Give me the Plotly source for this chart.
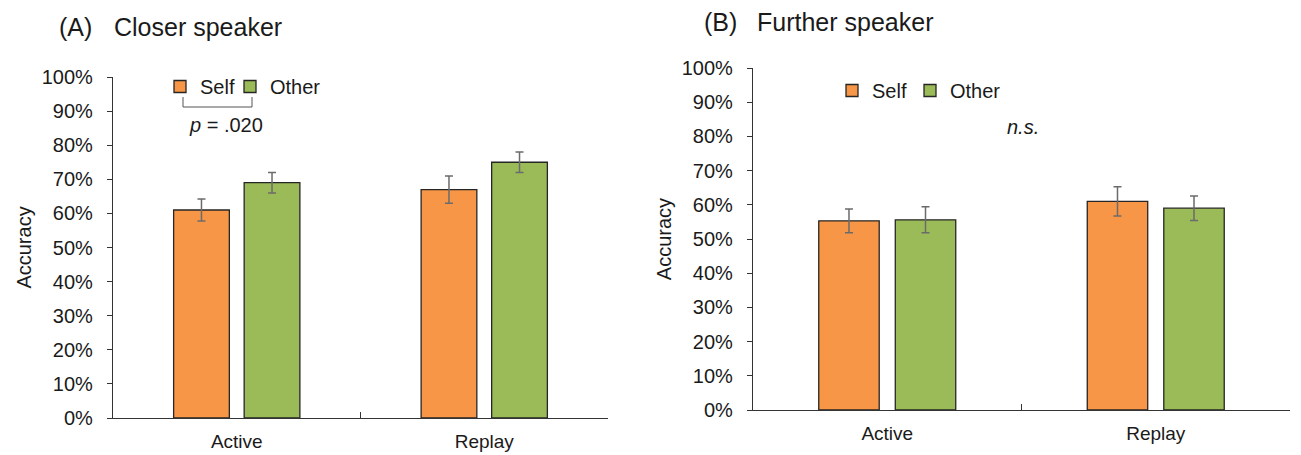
import plotly.graph_objects as go

categories = ["Active", "Replay"]
series_names = ["Self", "Other"]

closer_self = [61.0, 67.0]
closer_self_err = [3.2, 4.0]
closer_other = [69.0, 75.0]
closer_other_err = [3.0, 3.0]

further_self = [55.3, 61.0]
further_self_err = [3.5, 4.3]
further_other = [55.6, 59.0]
further_other_err = [3.8, 3.6]

y_ticks = list(range(0, 101, 10))
y_tick_labels = [f"{v}%" for v in y_ticks]

ORANGE = "#F79646"
GREEN = "#9BBB59"
OUTLINE = "#262626"
ERR = "#6b6b6b"
TXT = "#1a1a1a"
FONT = "Liberation Sans, Arial, sans-serif"

fig = go.Figure()

def add_bar(name, vals, errs, color, xa, ya, legend):
    fig.add_trace(go.Bar(
        x=categories, y=vals, name=name,
        marker=dict(color=color, line=dict(color=OUTLINE, width=1.3)),
        error_y=dict(type="data", array=errs, visible=True, color=ERR, thickness=1.5, width=4),
        xaxis=xa, yaxis=ya, legend=legend, showlegend=True,
    ))

add_bar(series_names[0], closer_self, closer_self_err, ORANGE, "x", "y", "legend")
add_bar(series_names[1], closer_other, closer_other_err, GREEN, "x", "y", "legend2")
add_bar(series_names[0], further_self, further_self_err, ORANGE, "x2", "y2", "legend3")
add_bar(series_names[1], further_other, further_other_err, GREEN, "x2", "y2", "legend4")

W, H = 1301, 455
def px_x(p):
    return p / W
def px_y(p):
    return 1 - p / H

xcommon = dict(type="category", showline=True, linecolor="#333333", linewidth=1.3,
               ticks="inside", tickson="boundaries", ticklen=6, tickcolor="#333333",
               tickfont=dict(size=19, color=TXT, family=FONT), showgrid=False,
               zeroline=False, fixedrange=True, ticklabelstandoff=6)
ycommon = dict(range=[0, 100], tickvals=y_ticks, ticktext=y_tick_labels, showline=True,
               linecolor="#333333", linewidth=1.3, ticks="outside", ticklen=5,
               tickcolor="#333333", tickfont=dict(size=20, color=TXT, family=FONT),
               showgrid=False, zeroline=False, ticklabelstandoff=10, fixedrange=True,
               title=dict(text="Accuracy", font=dict(size=20, color=TXT, family=FONT), standoff=4))

def legend_at(xp, yp):
    return dict(orientation="h", x=px_x(xp), y=px_y(yp), xanchor="left", yanchor="top",
                font=dict(size=20, family=FONT, color=TXT), bgcolor="rgba(0,0,0,0)",
                itemwidth=30, tracegroupgap=0)

fig.update_layout(
    width=W, height=H,
    margin=dict(l=0, r=0, t=0, b=0, autoexpand=False),
    paper_bgcolor="white", plot_bgcolor="white",
    font=dict(family=FONT, color=TXT),
    barmode="group", bargap=0.43, bargroupgap=0.21,
    xaxis=dict(domain=[px_x(113), px_x(608)], anchor="y", **xcommon),
    yaxis=dict(domain=[px_y(418), px_y(77)], anchor="x", **ycommon),
    xaxis2=dict(domain=[px_x(753), px_x(1290)], anchor="y2", **xcommon),
    yaxis2=dict(domain=[px_y(410), px_y(68)], anchor="x2", **ycommon),
    legend=legend_at(160, 67),
    legend2=legend_at(230, 67),
    legend3=legend_at(832, 71),
    legend4=legend_at(910, 71),
)

# panel titles
for txt, xp, yp in [("(A)", 57, 27), ("Closer speaker", 112, 27),
                    ("(B)", 702, 22), ("Further speaker", 755, 22)]:
    fig.add_annotation(text=txt, x=px_x(xp), y=px_y(yp), xref="paper", yref="paper",
                       xanchor="left", yanchor="middle", showarrow=False,
                       font=dict(size=25, family=FONT, color=TXT))

# significance bracket and labels
fig.add_shape(type="path", xref="paper", yref="paper",
              path=f"M {px_x(183)},{px_y(97)} L {px_x(183)},{px_y(107)} L {px_x(252)},{px_y(107)} L {px_x(252)},{px_y(97)}",
              line=dict(color="#555555", width=1))
fig.add_annotation(text="<i>p</i> = .020", x=px_x(226), y=px_y(125), xref="paper", yref="paper",
                   xanchor="center", yanchor="middle", showarrow=False,
                   font=dict(size=20, family=FONT, color=TXT))
fig.add_annotation(text="<i>n.s.</i>", x=px_x(1023), y=px_y(127), xref="paper", yref="paper",
                   xanchor="center", yanchor="middle", showarrow=False,
                   font=dict(size=20, family=FONT, color=TXT))

fig.write_html("out.html", config={"displayModeBar": False},
               post_script="document.body.style.margin='0';document.body.style.overflow='hidden';")
